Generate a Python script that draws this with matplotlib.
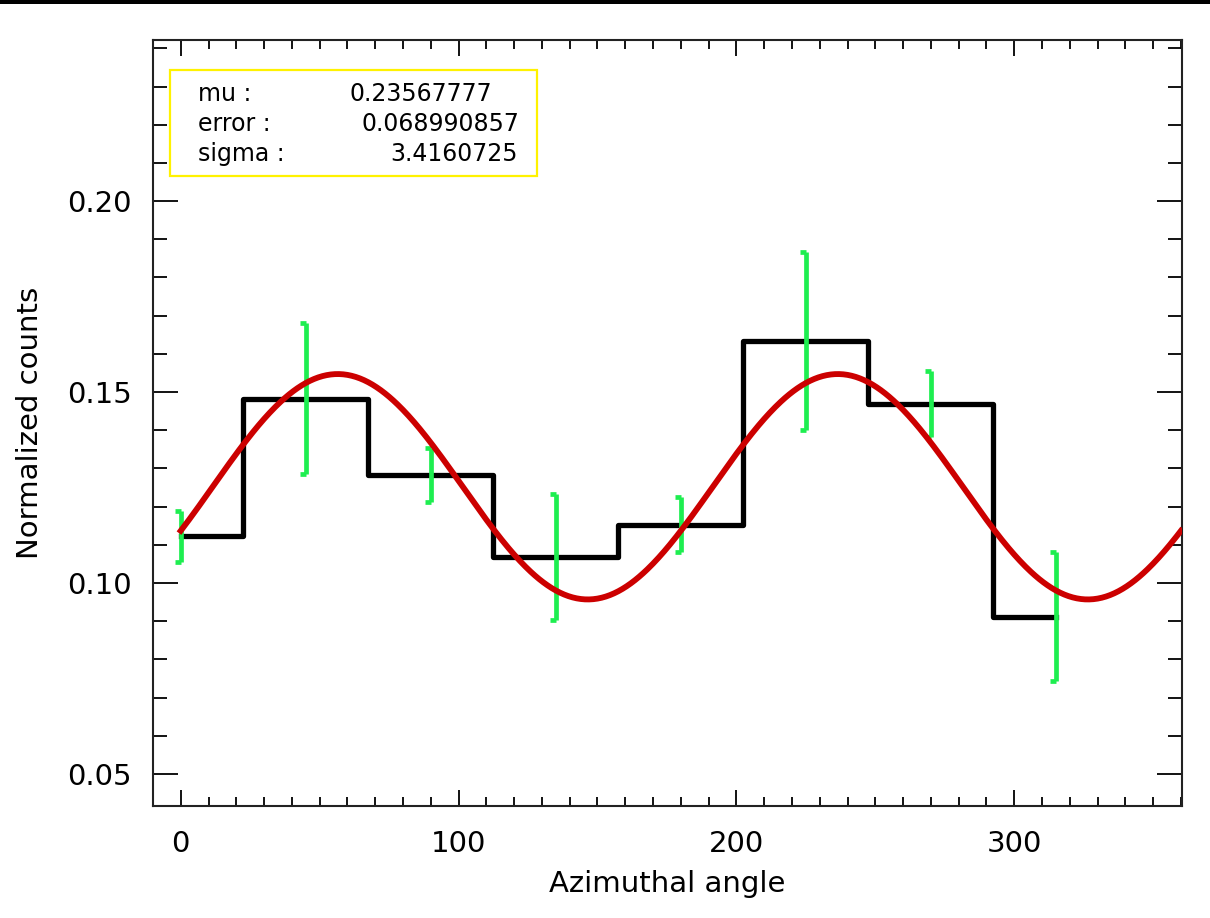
import numpy as np
import matplotlib
matplotlib.use("Agg")
import matplotlib.pyplot as plt
from matplotlib.patches import Rectangle
from matplotlib.ticker import MultipleLocator

# binned modulation curve (bin centres in degrees)
angles = [0, 45, 90, 135, 180, 225, 270, 315]
counts = [0.1122, 0.1483, 0.1282, 0.1067, 0.1153, 0.1633, 0.1468, 0.0912]
errors = [0.0066, 0.0197, 0.0071, 0.0165, 0.0073, 0.0233, 0.0087, 0.0168]

# fitted modulation parameters
fit_mean = 0.1252
fit_mu = 0.2357
fit_phase = 56.5
fit_labels = ["mu :", "error :", "sigma :"]
fit_values = ["0.23567777", "0.068990857", "3.4160725"]

plt.rcParams['font.family'] = ['DejaVu Sans']

fig = plt.figure(figsize=(12.1, 9.18), dpi=100)
ax = fig.add_axes([0.1264, 0.122, 0.8505, 0.8345])

# black strip along the top edge of the image
fig.add_artist(Rectangle((0, 1 - 4 / 918), 1, 4 / 918, transform=fig.transFigure,
                         color='black', lw=0))

green = '#1EEE50'
ax.plot(angles, counts, drawstyle='steps-mid', color='black', lw=3.8, zorder=2)
ax.errorbar(angles, counts, yerr=errors, fmt='none', ecolor=green,
            elinewidth=3.4, capsize=0, zorder=3)
# IDL style half caps pointing left
lo = np.array(counts) - np.array(errors)
hi = np.array(counts) + np.array(errors)
half_cap = [(-1, 0), (0, 0)]
ax.plot(angles, lo, ls='none', marker=half_cap, ms=9, mec=green, mew=3.4, zorder=3)
ax.plot(angles, hi, ls='none', marker=half_cap, ms=9, mec=green, mew=3.4, zorder=3)

phi = np.linspace(0, 360, 721)
model = fit_mean * (1 + fit_mu * np.cos(np.radians(2 * (phi - fit_phase))))
ax.plot(phi, model, color='#CC0000', lw=4.2, zorder=4)

ax.set_xlim(-10, 360.4)
ax.set_ylim(0.0416, 0.2422)
ax.xaxis.set_major_locator(MultipleLocator(100))
ax.xaxis.set_minor_locator(MultipleLocator(10))
ax.yaxis.set_major_locator(MultipleLocator(0.05))
ax.yaxis.set_minor_locator(MultipleLocator(0.01))
ax.yaxis.set_major_formatter(plt.FormatStrFormatter('%.2f'))

ax.tick_params(axis='both', which='both', direction='in', top=True, right=True,
               colors='black', width=1.3, labelsize=21)
ax.tick_params(axis='x', which='major', length=11.5, pad=17)
ax.tick_params(axis='x', which='minor', length=6.5)
ax.tick_params(axis='y', which='major', length=18, pad=15)
ax.tick_params(axis='y', which='minor', length=10)
for sp in ax.spines.values():
    sp.set_linewidth(1.5)
    sp.set_color('#222222')

ax.set_xlabel('Azimuthal angle', fontsize=21)
ax.set_ylabel('Normalized counts', fontsize=21)
ax.xaxis.set_label_coords(0.5, -0.083)
ax.yaxis.set_label_coords(-0.106, 0.5)

# fit result box
ax.add_patch(Rectangle((0.0165, 0.8225), 0.3563, 0.1383, transform=ax.transAxes,
                       fill=False, edgecolor='#FFF200', lw=1.6, zorder=5))
rows_y = [0.9295, 0.8903, 0.8512]
vals_x = [0.330, 0.3563, 0.3544]
for lab, val, y, vx in zip(fit_labels, fit_values, rows_y, vals_x):
    ax.text(0.0437, y, lab, transform=ax.transAxes, fontsize=17, va='center', ha='left')
    ax.text(vx, y, val, transform=ax.transAxes, fontsize=17, va='center', ha='right')

fig.savefig('out.png', dpi=100)
